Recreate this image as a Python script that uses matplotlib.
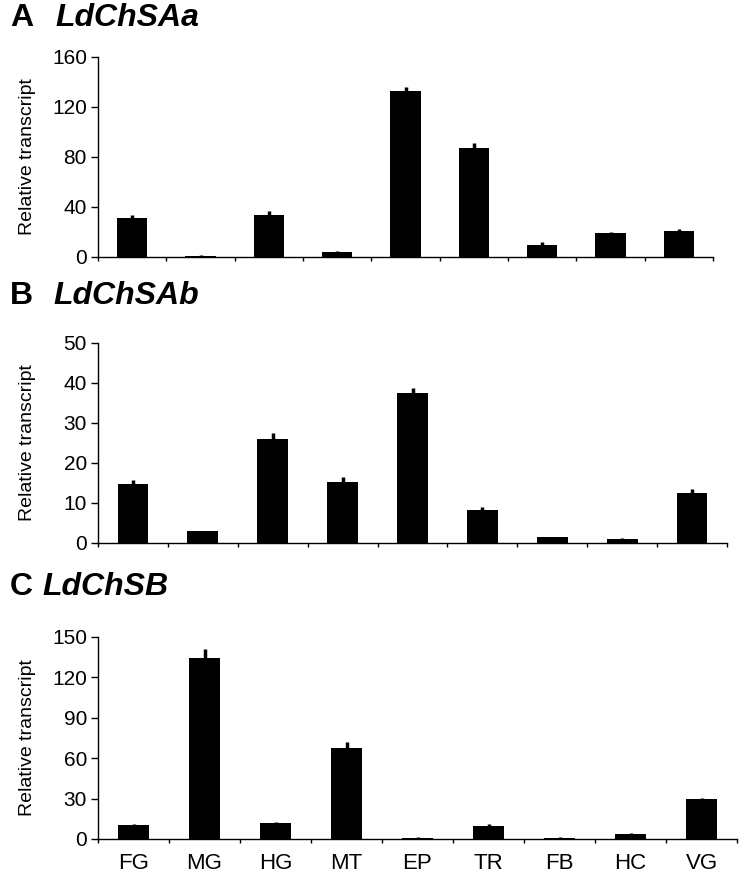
import matplotlib.pyplot as plt
import numpy as np

plt.rcParams['font.family'] = ['Liberation Sans', 'DejaVu Sans']

tejidos = ['FG', 'MG', 'HG', 'MT', 'EP', 'TR', 'FB', 'HC', 'VG']

# LdChSAa
valores_a = [31, 1, 34, 4, 133, 87, 9.5, 19, 21]
error_a = [2.5, 0.3, 2.5, 0.5, 3, 4, 2.5, 0.8, 1.5]

# LdChSAb
valores_b = [14.8, 3, 26, 15.3, 37.5, 8.2, 1.5, 1, 12.4]
error_b = [1, 0.1, 1.4, 1.2, 1.2, 0.9, 0.1, 0.3, 1]

# LdChSB
valores_c = [10.5, 134.5, 12, 67.5, 1, 9.8, 1, 3.5, 29.5]
error_c = [0.3, 6.5, 0.3, 4.5, 0.2, 1.5, 0.2, 0.8, 1.2]

paneles = [
    ('A', 'LdChSAa', valores_a, error_a, [0, 40, 80, 120, 160], 160, 57, 257, 713, 55, 18),
    ('B', 'LdChSAb', valores_b, error_b, [0, 10, 20, 30, 40, 50], 50, 343, 543, 727, 53, 296),
    ('C', 'LdChSB', valores_c, error_c, [0, 30, 60, 90, 120, 150], 150, 637, 839, 737, 42, 587),
]

W, H = 743, 881
fig = plt.figure(figsize=(W / 100, H / 100), dpi=100)

x = np.arange(len(tejidos))
for letra, gen, vals, errs, yticks, ymax, top, bottom, right, xgen, ytit in paneles:
    ax = fig.add_axes([98 / W, 1 - bottom / H, (right - 98) / W, (bottom - top) / H])
    ax.bar(x, vals, width=0.44, color='black')
    ax.errorbar(x, vals, yerr=[np.zeros(len(vals)), errs], fmt='none',
                ecolor='black', elinewidth=2.5, capsize=0)
    ax.set_xlim(-0.5, len(tejidos) - 0.5)
    ax.set_ylim(0, ymax)
    ax.set_yticks(yticks)
    ax.set_xticks(np.arange(len(tejidos) + 1) - 0.5)
    ax.set_xticklabels([])
    ax.set_xticks(x, minor=True)
    if letra == 'C':
        ax.set_xticklabels(tejidos, minor=True)
    ax.tick_params(axis='x', which='major', length=3, width=1, direction='out')
    ax.tick_params(axis='x', which='minor', length=0, labelsize=16, pad=10)
    ax.tick_params(axis='y', length=5, width=1, labelsize=15, pad=3)
    ax.spines['top'].set_visible(False)
    ax.spines['right'].set_visible(False)
    ax.spines['left'].set_linewidth(1)
    ax.spines['bottom'].set_linewidth(1)
    ax.set_ylabel('Relative transcript', fontsize=14)
    ax.yaxis.set_label_coords((36 - 98) / (right - 98), 0.5)

    fig.text(10 / W, 1 - ytit / H, letra, fontsize=23, fontweight='bold', va='center')
    fig.text(xgen / W, 1 - ytit / H, gen, fontsize=23, fontweight='bold',
             fontstyle='italic', va='center')

plt.savefig('out.png', dpi=100)
